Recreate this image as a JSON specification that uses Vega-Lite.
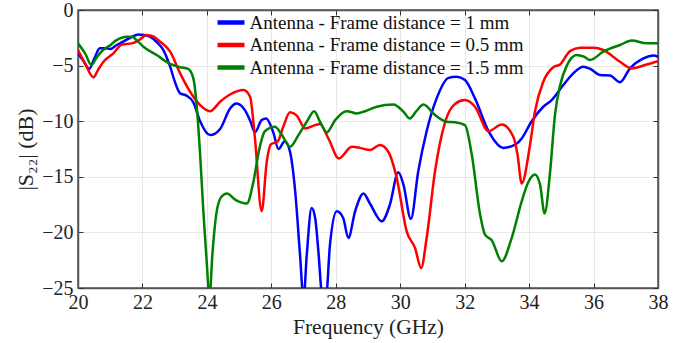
{
  "$schema": "https://vega.github.io/schema/vega-lite/v6.json",
  "width": 580,
  "height": 278,
  "autosize": "none",
  "padding": {"left": 78, "top": 10, "right": 23, "bottom": 55},
  "background": "white",
  "config": {
    "view": {"stroke": "#555555", "strokeWidth": 1.5},
    "font": "Liberation Serif, Times New Roman, serif"
  },
  "datasets": {
    "d": [
      {"f":20.0,"v":-3.9,"s":"Antenna - Frame distance = 1 mm"},
      {"f":20.15,"v":-4.5,"s":"Antenna - Frame distance = 1 mm"},
      {"f":20.35,"v":-5.3,"s":"Antenna - Frame distance = 1 mm"},
      {"f":20.5,"v":-4.4,"s":"Antenna - Frame distance = 1 mm"},
      {"f":20.68,"v":-3.45,"s":"Antenna - Frame distance = 1 mm"},
      {"f":20.85,"v":-3.45,"s":"Antenna - Frame distance = 1 mm"},
      {"f":21.0,"v":-3.5,"s":"Antenna - Frame distance = 1 mm"},
      {"f":21.2,"v":-3.15,"s":"Antenna - Frame distance = 1 mm"},
      {"f":21.4,"v":-2.85,"s":"Antenna - Frame distance = 1 mm"},
      {"f":21.65,"v":-2.45,"s":"Antenna - Frame distance = 1 mm"},
      {"f":21.87,"v":-2.2,"s":"Antenna - Frame distance = 1 mm"},
      {"f":22.05,"v":-2.25,"s":"Antenna - Frame distance = 1 mm"},
      {"f":22.23,"v":-2.4,"s":"Antenna - Frame distance = 1 mm"},
      {"f":22.45,"v":-2.9,"s":"Antenna - Frame distance = 1 mm"},
      {"f":22.65,"v":-3.6,"s":"Antenna - Frame distance = 1 mm"},
      {"f":22.86,"v":-5.1,"s":"Antenna - Frame distance = 1 mm"},
      {"f":23.0,"v":-6.4,"s":"Antenna - Frame distance = 1 mm"},
      {"f":23.17,"v":-7.5,"s":"Antenna - Frame distance = 1 mm"},
      {"f":23.37,"v":-7.7,"s":"Antenna - Frame distance = 1 mm"},
      {"f":23.58,"v":-8.3,"s":"Antenna - Frame distance = 1 mm"},
      {"f":23.79,"v":-10.0,"s":"Antenna - Frame distance = 1 mm"},
      {"f":24.1,"v":-11.25,"s":"Antenna - Frame distance = 1 mm"},
      {"f":24.41,"v":-10.7,"s":"Antenna - Frame distance = 1 mm"},
      {"f":24.72,"v":-8.85,"s":"Antenna - Frame distance = 1 mm"},
      {"f":24.92,"v":-8.4,"s":"Antenna - Frame distance = 1 mm"},
      {"f":25.18,"v":-9.0,"s":"Antenna - Frame distance = 1 mm"},
      {"f":25.35,"v":-10.0,"s":"Antenna - Frame distance = 1 mm"},
      {"f":25.49,"v":-11.0,"s":"Antenna - Frame distance = 1 mm"},
      {"f":25.7,"v":-9.9,"s":"Antenna - Frame distance = 1 mm"},
      {"f":25.84,"v":-9.75,"s":"Antenna - Frame distance = 1 mm"},
      {"f":26.06,"v":-11.0,"s":"Antenna - Frame distance = 1 mm"},
      {"f":26.22,"v":-12.5,"s":"Antenna - Frame distance = 1 mm"},
      {"f":26.42,"v":-11.8,"s":"Antenna - Frame distance = 1 mm"},
      {"f":26.58,"v":-12.75,"s":"Antenna - Frame distance = 1 mm"},
      {"f":26.74,"v":-16.3,"s":"Antenna - Frame distance = 1 mm"},
      {"f":26.89,"v":-22.0,"s":"Antenna - Frame distance = 1 mm"},
      {"f":27.0,"v":-26.0,"s":"Antenna - Frame distance = 1 mm"},
      {"f":27.1,"v":-22.0,"s":"Antenna - Frame distance = 1 mm"},
      {"f":27.25,"v":-17.8,"s":"Antenna - Frame distance = 1 mm"},
      {"f":27.36,"v":-18.7,"s":"Antenna - Frame distance = 1 mm"},
      {"f":27.46,"v":-21.7,"s":"Antenna - Frame distance = 1 mm"},
      {"f":27.56,"v":-25.5,"s":"Antenna - Frame distance = 1 mm"},
      {"f":27.64,"v":-27.0,"s":"Antenna - Frame distance = 1 mm"},
      {"f":27.72,"v":-25.5,"s":"Antenna - Frame distance = 1 mm"},
      {"f":27.82,"v":-21.1,"s":"Antenna - Frame distance = 1 mm"},
      {"f":28.03,"v":-18.1,"s":"Antenna - Frame distance = 1 mm"},
      {"f":28.23,"v":-18.7,"s":"Antenna - Frame distance = 1 mm"},
      {"f":28.39,"v":-20.5,"s":"Antenna - Frame distance = 1 mm"},
      {"f":28.6,"v":-18.1,"s":"Antenna - Frame distance = 1 mm"},
      {"f":28.86,"v":-16.5,"s":"Antenna - Frame distance = 1 mm"},
      {"f":29.06,"v":-17.4,"s":"Antenna - Frame distance = 1 mm"},
      {"f":29.43,"v":-19.0,"s":"Antenna - Frame distance = 1 mm"},
      {"f":29.68,"v":-17.5,"s":"Antenna - Frame distance = 1 mm"},
      {"f":29.94,"v":-14.6,"s":"Antenna - Frame distance = 1 mm"},
      {"f":30.1,"v":-15.7,"s":"Antenna - Frame distance = 1 mm"},
      {"f":30.33,"v":-18.8,"s":"Antenna - Frame distance = 1 mm"},
      {"f":30.56,"v":-14.5,"s":"Antenna - Frame distance = 1 mm"},
      {"f":30.82,"v":-10.9,"s":"Antenna - Frame distance = 1 mm"},
      {"f":31.13,"v":-7.95,"s":"Antenna - Frame distance = 1 mm"},
      {"f":31.5,"v":-6.1,"s":"Antenna - Frame distance = 1 mm"},
      {"f":31.75,"v":-6.0,"s":"Antenna - Frame distance = 1 mm"},
      {"f":32.01,"v":-6.3,"s":"Antenna - Frame distance = 1 mm"},
      {"f":32.32,"v":-7.95,"s":"Antenna - Frame distance = 1 mm"},
      {"f":32.74,"v":-10.9,"s":"Antenna - Frame distance = 1 mm"},
      {"f":33.2,"v":-12.4,"s":"Antenna - Frame distance = 1 mm"},
      {"f":33.62,"v":-12.0,"s":"Antenna - Frame distance = 1 mm"},
      {"f":33.77,"v":-11.55,"s":"Antenna - Frame distance = 1 mm"},
      {"f":34.08,"v":-10.0,"s":"Antenna - Frame distance = 1 mm"},
      {"f":34.44,"v":-8.7,"s":"Antenna - Frame distance = 1 mm"},
      {"f":34.7,"v":-8.1,"s":"Antenna - Frame distance = 1 mm"},
      {"f":35.06,"v":-6.75,"s":"Antenna - Frame distance = 1 mm"},
      {"f":35.37,"v":-5.7,"s":"Antenna - Frame distance = 1 mm"},
      {"f":35.68,"v":-5.1,"s":"Antenna - Frame distance = 1 mm"},
      {"f":35.9,"v":-5.3,"s":"Antenna - Frame distance = 1 mm"},
      {"f":36.2,"v":-5.85,"s":"Antenna - Frame distance = 1 mm"},
      {"f":36.51,"v":-5.9,"s":"Antenna - Frame distance = 1 mm"},
      {"f":36.82,"v":-6.5,"s":"Antenna - Frame distance = 1 mm"},
      {"f":37.13,"v":-5.25,"s":"Antenna - Frame distance = 1 mm"},
      {"f":37.55,"v":-4.35,"s":"Antenna - Frame distance = 1 mm"},
      {"f":37.86,"v":-4.1,"s":"Antenna - Frame distance = 1 mm"},
      {"f":38.0,"v":-4.2,"s":"Antenna - Frame distance = 1 mm"},

      {"f":20.0,"v":-3.6,"s":"Antenna - Frame distance = 0.5 mm"},
      {"f":20.22,"v":-4.8,"s":"Antenna - Frame distance = 0.5 mm"},
      {"f":20.48,"v":-6.05,"s":"Antenna - Frame distance = 0.5 mm"},
      {"f":20.62,"v":-5.4,"s":"Antenna - Frame distance = 0.5 mm"},
      {"f":20.79,"v":-4.65,"s":"Antenna - Frame distance = 0.5 mm"},
      {"f":21.1,"v":-3.9,"s":"Antenna - Frame distance = 0.5 mm"},
      {"f":21.36,"v":-3.1,"s":"Antenna - Frame distance = 0.5 mm"},
      {"f":21.67,"v":-3.0,"s":"Antenna - Frame distance = 0.5 mm"},
      {"f":21.9,"v":-2.7,"s":"Antenna - Frame distance = 0.5 mm"},
      {"f":22.13,"v":-2.25,"s":"Antenna - Frame distance = 0.5 mm"},
      {"f":22.35,"v":-2.4,"s":"Antenna - Frame distance = 0.5 mm"},
      {"f":22.55,"v":-2.85,"s":"Antenna - Frame distance = 0.5 mm"},
      {"f":22.86,"v":-3.75,"s":"Antenna - Frame distance = 0.5 mm"},
      {"f":23.17,"v":-5.7,"s":"Antenna - Frame distance = 0.5 mm"},
      {"f":23.48,"v":-7.35,"s":"Antenna - Frame distance = 0.5 mm"},
      {"f":23.79,"v":-8.55,"s":"Antenna - Frame distance = 0.5 mm"},
      {"f":24.1,"v":-9.1,"s":"Antenna - Frame distance = 0.5 mm"},
      {"f":24.41,"v":-8.25,"s":"Antenna - Frame distance = 0.5 mm"},
      {"f":24.72,"v":-7.6,"s":"Antenna - Frame distance = 0.5 mm"},
      {"f":25.13,"v":-7.2,"s":"Antenna - Frame distance = 0.5 mm"},
      {"f":25.34,"v":-7.8,"s":"Antenna - Frame distance = 0.5 mm"},
      {"f":25.49,"v":-11.5,"s":"Antenna - Frame distance = 0.5 mm"},
      {"f":25.7,"v":-18.1,"s":"Antenna - Frame distance = 0.5 mm"},
      {"f":25.86,"v":-13.6,"s":"Antenna - Frame distance = 0.5 mm"},
      {"f":25.98,"v":-12.1,"s":"Antenna - Frame distance = 0.5 mm"},
      {"f":26.2,"v":-11.8,"s":"Antenna - Frame distance = 0.5 mm"},
      {"f":26.37,"v":-10.5,"s":"Antenna - Frame distance = 0.5 mm"},
      {"f":26.58,"v":-9.2,"s":"Antenna - Frame distance = 0.5 mm"},
      {"f":26.79,"v":-9.5,"s":"Antenna - Frame distance = 0.5 mm"},
      {"f":27.05,"v":-10.65,"s":"Antenna - Frame distance = 0.5 mm"},
      {"f":27.36,"v":-10.35,"s":"Antenna - Frame distance = 0.5 mm"},
      {"f":27.51,"v":-10.25,"s":"Antenna - Frame distance = 0.5 mm"},
      {"f":27.77,"v":-11.55,"s":"Antenna - Frame distance = 0.5 mm"},
      {"f":28.1,"v":-13.35,"s":"Antenna - Frame distance = 0.5 mm"},
      {"f":28.5,"v":-12.3,"s":"Antenna - Frame distance = 0.5 mm"},
      {"f":28.75,"v":-12.4,"s":"Antenna - Frame distance = 0.5 mm"},
      {"f":29.06,"v":-12.6,"s":"Antenna - Frame distance = 0.5 mm"},
      {"f":29.37,"v":-12.15,"s":"Antenna - Frame distance = 0.5 mm"},
      {"f":29.63,"v":-12.75,"s":"Antenna - Frame distance = 0.5 mm"},
      {"f":29.89,"v":-15.1,"s":"Antenna - Frame distance = 0.5 mm"},
      {"f":30.2,"v":-19.9,"s":"Antenna - Frame distance = 0.5 mm"},
      {"f":30.46,"v":-21.4,"s":"Antenna - Frame distance = 0.5 mm"},
      {"f":30.65,"v":-23.2,"s":"Antenna - Frame distance = 0.5 mm"},
      {"f":30.82,"v":-20.5,"s":"Antenna - Frame distance = 0.5 mm"},
      {"f":31.08,"v":-14.5,"s":"Antenna - Frame distance = 0.5 mm"},
      {"f":31.39,"v":-10.1,"s":"Antenna - Frame distance = 0.5 mm"},
      {"f":31.7,"v":-8.45,"s":"Antenna - Frame distance = 0.5 mm"},
      {"f":32.01,"v":-8.1,"s":"Antenna - Frame distance = 0.5 mm"},
      {"f":32.32,"v":-8.7,"s":"Antenna - Frame distance = 0.5 mm"},
      {"f":32.74,"v":-10.9,"s":"Antenna - Frame distance = 0.5 mm"},
      {"f":33.15,"v":-10.3,"s":"Antenna - Frame distance = 0.5 mm"},
      {"f":33.51,"v":-11.4,"s":"Antenna - Frame distance = 0.5 mm"},
      {"f":33.64,"v":-13.0,"s":"Antenna - Frame distance = 0.5 mm"},
      {"f":33.77,"v":-15.6,"s":"Antenna - Frame distance = 0.5 mm"},
      {"f":34.03,"v":-12.1,"s":"Antenna - Frame distance = 0.5 mm"},
      {"f":34.18,"v":-9.15,"s":"Antenna - Frame distance = 0.5 mm"},
      {"f":34.44,"v":-6.45,"s":"Antenna - Frame distance = 0.5 mm"},
      {"f":34.75,"v":-5.15,"s":"Antenna - Frame distance = 0.5 mm"},
      {"f":34.96,"v":-4.9,"s":"Antenna - Frame distance = 0.5 mm"},
      {"f":35.27,"v":-3.7,"s":"Antenna - Frame distance = 0.5 mm"},
      {"f":35.59,"v":-3.4,"s":"Antenna - Frame distance = 0.5 mm"},
      {"f":36.0,"v":-3.4,"s":"Antenna - Frame distance = 0.5 mm"},
      {"f":36.3,"v":-3.6,"s":"Antenna - Frame distance = 0.5 mm"},
      {"f":36.82,"v":-4.65,"s":"Antenna - Frame distance = 0.5 mm"},
      {"f":37.19,"v":-5.25,"s":"Antenna - Frame distance = 0.5 mm"},
      {"f":37.65,"v":-4.9,"s":"Antenna - Frame distance = 0.5 mm"},
      {"f":38.0,"v":-4.6,"s":"Antenna - Frame distance = 0.5 mm"},

      {"f":20.0,"v":-3.0,"s":"Antenna - Frame distance = 1.5 mm"},
      {"f":20.22,"v":-3.9,"s":"Antenna - Frame distance = 1.5 mm"},
      {"f":20.42,"v":-4.95,"s":"Antenna - Frame distance = 1.5 mm"},
      {"f":20.55,"v":-4.4,"s":"Antenna - Frame distance = 1.5 mm"},
      {"f":20.68,"v":-3.9,"s":"Antenna - Frame distance = 1.5 mm"},
      {"f":20.85,"v":-3.45,"s":"Antenna - Frame distance = 1.5 mm"},
      {"f":20.99,"v":-3.2,"s":"Antenna - Frame distance = 1.5 mm"},
      {"f":21.15,"v":-2.8,"s":"Antenna - Frame distance = 1.5 mm"},
      {"f":21.3,"v":-2.55,"s":"Antenna - Frame distance = 1.5 mm"},
      {"f":21.5,"v":-2.4,"s":"Antenna - Frame distance = 1.5 mm"},
      {"f":21.67,"v":-2.4,"s":"Antenna - Frame distance = 1.5 mm"},
      {"f":21.85,"v":-2.8,"s":"Antenna - Frame distance = 1.5 mm"},
      {"f":22.03,"v":-3.3,"s":"Antenna - Frame distance = 1.5 mm"},
      {"f":22.44,"v":-4.05,"s":"Antenna - Frame distance = 1.5 mm"},
      {"f":22.86,"v":-4.85,"s":"Antenna - Frame distance = 1.5 mm"},
      {"f":23.17,"v":-5.15,"s":"Antenna - Frame distance = 1.5 mm"},
      {"f":23.42,"v":-5.3,"s":"Antenna - Frame distance = 1.5 mm"},
      {"f":23.58,"v":-6.15,"s":"Antenna - Frame distance = 1.5 mm"},
      {"f":23.68,"v":-8.5,"s":"Antenna - Frame distance = 1.5 mm"},
      {"f":23.79,"v":-13.0,"s":"Antenna - Frame distance = 1.5 mm"},
      {"f":23.89,"v":-18.1,"s":"Antenna - Frame distance = 1.5 mm"},
      {"f":24.0,"v":-22.9,"s":"Antenna - Frame distance = 1.5 mm"},
      {"f":24.08,"v":-26.0,"s":"Antenna - Frame distance = 1.5 mm"},
      {"f":24.17,"v":-22.0,"s":"Antenna - Frame distance = 1.5 mm"},
      {"f":24.3,"v":-18.2,"s":"Antenna - Frame distance = 1.5 mm"},
      {"f":24.45,"v":-16.8,"s":"Antenna - Frame distance = 1.5 mm"},
      {"f":24.62,"v":-16.5,"s":"Antenna - Frame distance = 1.5 mm"},
      {"f":24.9,"v":-17.1,"s":"Antenna - Frame distance = 1.5 mm"},
      {"f":25.24,"v":-17.4,"s":"Antenna - Frame distance = 1.5 mm"},
      {"f":25.44,"v":-15.5,"s":"Antenna - Frame distance = 1.5 mm"},
      {"f":25.62,"v":-12.6,"s":"Antenna - Frame distance = 1.5 mm"},
      {"f":25.8,"v":-10.9,"s":"Antenna - Frame distance = 1.5 mm"},
      {"f":26.11,"v":-10.5,"s":"Antenna - Frame distance = 1.5 mm"},
      {"f":26.32,"v":-11.2,"s":"Antenna - Frame distance = 1.5 mm"},
      {"f":26.58,"v":-12.3,"s":"Antenna - Frame distance = 1.5 mm"},
      {"f":26.84,"v":-11.25,"s":"Antenna - Frame distance = 1.5 mm"},
      {"f":27.1,"v":-10.05,"s":"Antenna - Frame distance = 1.5 mm"},
      {"f":27.33,"v":-9.1,"s":"Antenna - Frame distance = 1.5 mm"},
      {"f":27.51,"v":-10.05,"s":"Antenna - Frame distance = 1.5 mm"},
      {"f":27.72,"v":-11.0,"s":"Antenna - Frame distance = 1.5 mm"},
      {"f":27.98,"v":-9.9,"s":"Antenna - Frame distance = 1.5 mm"},
      {"f":28.34,"v":-9.1,"s":"Antenna - Frame distance = 1.5 mm"},
      {"f":28.65,"v":-9.3,"s":"Antenna - Frame distance = 1.5 mm"},
      {"f":28.91,"v":-9.1,"s":"Antenna - Frame distance = 1.5 mm"},
      {"f":29.27,"v":-8.7,"s":"Antenna - Frame distance = 1.5 mm"},
      {"f":29.79,"v":-8.5,"s":"Antenna - Frame distance = 1.5 mm"},
      {"f":30.1,"v":-9.15,"s":"Antenna - Frame distance = 1.5 mm"},
      {"f":30.3,"v":-9.75,"s":"Antenna - Frame distance = 1.5 mm"},
      {"f":30.5,"v":-9.1,"s":"Antenna - Frame distance = 1.5 mm"},
      {"f":30.72,"v":-8.5,"s":"Antenna - Frame distance = 1.5 mm"},
      {"f":31.08,"v":-9.45,"s":"Antenna - Frame distance = 1.5 mm"},
      {"f":31.44,"v":-10.05,"s":"Antenna - Frame distance = 1.5 mm"},
      {"f":31.7,"v":-10.1,"s":"Antenna - Frame distance = 1.5 mm"},
      {"f":32.01,"v":-10.35,"s":"Antenna - Frame distance = 1.5 mm"},
      {"f":32.22,"v":-13.0,"s":"Antenna - Frame distance = 1.5 mm"},
      {"f":32.48,"v":-18.4,"s":"Antenna - Frame distance = 1.5 mm"},
      {"f":32.63,"v":-20.2,"s":"Antenna - Frame distance = 1.5 mm"},
      {"f":32.84,"v":-20.7,"s":"Antenna - Frame distance = 1.5 mm"},
      {"f":33.15,"v":-22.6,"s":"Antenna - Frame distance = 1.5 mm"},
      {"f":33.46,"v":-20.5,"s":"Antenna - Frame distance = 1.5 mm"},
      {"f":33.77,"v":-17.2,"s":"Antenna - Frame distance = 1.5 mm"},
      {"f":33.98,"v":-15.45,"s":"Antenna - Frame distance = 1.5 mm"},
      {"f":34.18,"v":-14.8,"s":"Antenna - Frame distance = 1.5 mm"},
      {"f":34.34,"v":-15.7,"s":"Antenna - Frame distance = 1.5 mm"},
      {"f":34.48,"v":-18.3,"s":"Antenna - Frame distance = 1.5 mm"},
      {"f":34.65,"v":-14.6,"s":"Antenna - Frame distance = 1.5 mm"},
      {"f":34.8,"v":-9.5,"s":"Antenna - Frame distance = 1.5 mm"},
      {"f":34.96,"v":-6.8,"s":"Antenna - Frame distance = 1.5 mm"},
      {"f":35.17,"v":-5.0,"s":"Antenna - Frame distance = 1.5 mm"},
      {"f":35.48,"v":-4.05,"s":"Antenna - Frame distance = 1.5 mm"},
      {"f":35.7,"v":-4.2,"s":"Antenna - Frame distance = 1.5 mm"},
      {"f":35.89,"v":-4.5,"s":"Antenna - Frame distance = 1.5 mm"},
      {"f":36.3,"v":-3.75,"s":"Antenna - Frame distance = 1.5 mm"},
      {"f":36.82,"v":-3.15,"s":"Antenna - Frame distance = 1.5 mm"},
      {"f":37.19,"v":-2.75,"s":"Antenna - Frame distance = 1.5 mm"},
      {"f":37.65,"v":-3.0,"s":"Antenna - Frame distance = 1.5 mm"},
      {"f":38.0,"v":-3.0,"s":"Antenna - Frame distance = 1.5 mm"}
    ]
  },
  "data": {"name": "d"},
  "layer": [
    {
      "mark": {"type": "line", "clip": true, "strokeWidth": 2.5, "interpolate": "monotone"},
      "encoding": {
        "x": {
          "field": "f", "type": "quantitative",
          "scale": {"domain": [20, 38], "nice": false},
          "axis": {
            "title": "Frequency (GHz)", "values": [20,22,24,26,28,30,32,34,36,38],
            "tickSize": -5, "tickColor": "#333333", "domainColor": "#555555", "domainWidth": 1.5,
            "labelFont": "Liberation Serif, Times New Roman, serif", "labelFontSize": 20, "labelColor": "#222222",
            "labelPadding": 9, "labelFlush": false, "titleFont": "Liberation Serif, Times New Roman, serif", "titleFontSize": 21.5,
            "titleFontWeight": "normal", "titleColor": "#222222", "titlePadding": 4,
            "grid": true, "gridColor": "#e8e8e8", "gridWidth": 1
          }
        },
        "y": {
          "field": "v", "type": "quantitative",
          "scale": {"domain": [-25, 0], "nice": false},
          "axis": {
            "title": "|S₂₂| (dB)", "values": [0,-5,-10,-15,-20,-25],
            "tickSize": -5, "tickColor": "#333333", "domainColor": "#555555", "domainWidth": 1.5,
            "labelFont": "Liberation Serif, Times New Roman, serif", "labelFontSize": 20, "labelColor": "#222222",
            "labelPadding": 10, "labelFlush": false, "titleFont": "Liberation Serif, Times New Roman, serif", "titleFontSize": 22,
            "titleFontWeight": "normal", "titleColor": "#222222", "titlePadding": 4,
            "grid": true, "gridColor": "#e8e8e8", "gridWidth": 1
          }
        },
        "color": {
          "field": "s", "type": "nominal",
          "scale": {
            "domain": ["Antenna - Frame distance = 1 mm", "Antenna - Frame distance = 0.5 mm", "Antenna - Frame distance = 1.5 mm"],
            "range": ["#0000ff", "#ff0000", "#008000"]
          },
          "legend": {
            "title": null, "orient": "none", "legendX": 143.5, "legendY": 3,
            "symbolType": "M-2,0L2,0", "symbolSize": 182, "symbolStrokeWidth": 4.5,
            "labelFont": "Liberation Serif, Times New Roman, serif", "labelFontSize": 19, "labelColor": "#111111",
            "labelLimit": 400, "rowPadding": 2.5, "padding": 0, "labelOffset": 9
          }
        }
      }
    },
    {
      "mark": {"type": "line", "opacity": 0},
      "encoding": {
        "x": {"field": "f", "type": "quantitative",
          "axis": {"orient": "top", "labels": false, "title": null, "grid": false, "values": [20,22,24,26,28,30,32,34,36,38], "tickSize": -5, "tickColor": "#333333", "domainColor": "#555555", "domainWidth": 1.5}},
        "y": {"field": "v", "type": "quantitative",
          "axis": {"orient": "right", "labels": false, "title": null, "grid": false, "values": [0,-5,-10,-15,-20,-25], "tickSize": -5, "tickColor": "#333333", "domainColor": "#555555", "domainWidth": 1.5}},
        "detail": {"field": "s"}
      }
    }
  ],
  "resolve": {"axis": {"x": "independent", "y": "independent"}}
}
